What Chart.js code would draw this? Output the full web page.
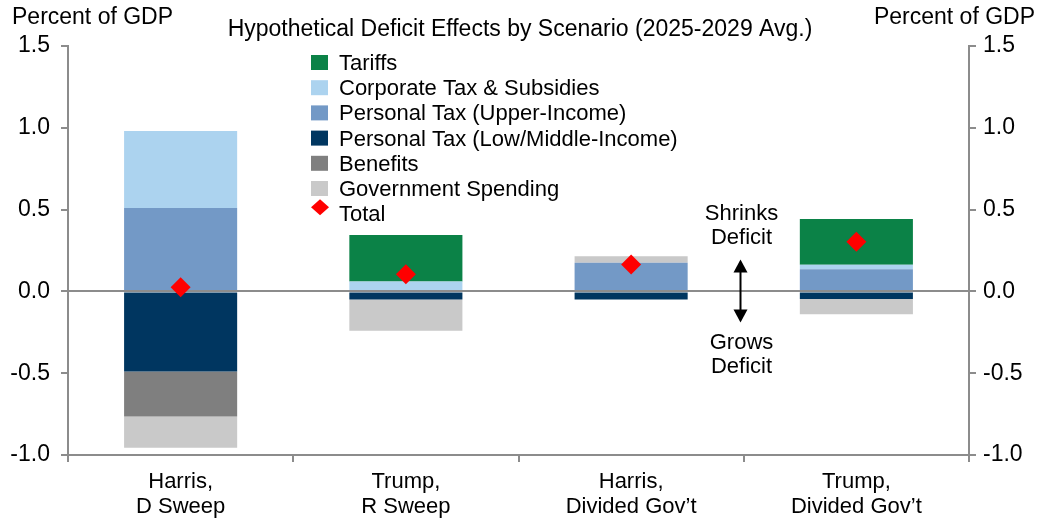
<!DOCTYPE html>
<html>
<head>
<meta charset="utf-8">
<script src="https://cdn.jsdelivr.net/npm/chart.js@4.4.1/dist/chart.umd.min.js"></script>
<style>
  html, body { margin: 0; padding: 0; background: #ffffff; }
  #wrap { width: 1039px; height: 525px; }
</style>
</head>
<body>
<div id="wrap"><canvas id="c" width="1039" height="525"></canvas></div>
<script>
// ---- Data ----
const categories = [
  ['Harris,', 'D Sweep'],
  ['Trump,', 'R Sweep'],
  ['Harris,', 'Divided Gov\u2019t'],
  ['Trump,', 'Divided Gov\u2019t']
];
const tariffs      = [0.00, 0.285, 0.00, 0.280];
const corporateTax = [0.47, 0.060, 0.00, 0.027];
const upperIncome  = [0.51, 0.000, 0.175, 0.136];
const lowMiddle    = [-0.49, -0.050, -0.050, -0.047];
const benefits     = [-0.275, 0.000, 0.000, 0.000];
const govSpending  = [-0.19, -0.190, 0.040, -0.093];
const total        = [0.025, 0.105, 0.165, 0.303];
const yTicks       = [-1.0, -0.5, 0.0, 0.5, 1.0, 1.5];

const seriesNames = ['Tariffs', 'Corporate Tax & Subsidies', 'Personal Tax (Upper-Income)',
  'Personal Tax (Low/Middle-Income)', 'Benefits', 'Government Spending', 'Total'];
const colors = ['#0b8247', '#acd3ef', '#7399c6', '#003660', '#7f7f7f', '#c9c9c9', '#ff0000'];

const FONT = "'Liberation Sans', Arial, sans-serif";
const AXIS_COLOR = '#8c8c8c';

function barDs(i, data, order) {
  return {
    type: 'bar', label: seriesNames[i], data: data, backgroundColor: colors[i],
    borderWidth: 0, stack: 'main', order: order, yAxisID: 'y'
  };
}

const overlay = {
  id: 'overlay',
  beforeDatasetDraw(chart, args) {
    if (args.index !== 6) return;
    const ctx = chart.ctx, ca = chart.chartArea, y = chart.scales.y;
    const py = Math.round(y.getPixelForValue(0)) ;
    ctx.save();
    ctx.strokeStyle = AXIS_COLOR; ctx.lineWidth = 2;
    ctx.beginPath(); ctx.moveTo(ca.left, py); ctx.lineTo(ca.right, py); ctx.stroke();
    ctx.restore();
  },
  afterDraw(chart) {
    const ctx = chart.ctx, x = chart.scales.x, y = chart.scales.y;
    ctx.save();
    ctx.fillStyle = '#000';
    ctx.textBaseline = 'middle';
    // axis titles
    ctx.font = '23px ' + FONT;
    ctx.textAlign = 'left';
    ctx.fillText('Percent of GDP', 12, 18);
    ctx.textAlign = 'right';
    ctx.fillText('Percent of GDP', 1035, 18);
    // title
    ctx.textAlign = 'center';
    ctx.fillText('Hypothetical Deficit Effects by Scenario (2025-2029 Avg.)', 520, 30);

    // annotation
    const ax = Math.round(x.getPixelForValue(2.5)) - 4 + 0.5;
    ctx.font = '22px ' + FONT;
    ctx.fillText('Shrinks', ax + 1, 214);
    ctx.fillText('Deficit', ax + 1, 238);
    ctx.fillText('Grows', ax + 1, 343);
    ctx.fillText('Deficit', ax + 1, 367);
    const yTop = y.getPixelForValue(0.195), yBot = y.getPixelForValue(-0.19);
    ctx.strokeStyle = '#000'; ctx.lineWidth = 2;
    ctx.beginPath(); ctx.moveTo(ax, yTop + 8); ctx.lineTo(ax, yBot - 8); ctx.stroke();
    ctx.beginPath();
    ctx.moveTo(ax, yTop); ctx.lineTo(ax - 7, yTop + 13); ctx.lineTo(ax + 7, yTop + 13); ctx.closePath(); ctx.fill();
    ctx.beginPath();
    ctx.moveTo(ax, yBot); ctx.lineTo(ax - 7, yBot - 13); ctx.lineTo(ax + 7, yBot - 13); ctx.closePath(); ctx.fill();

    // legend
    ctx.textAlign = 'left';
    ctx.font = '22px ' + FONT;
    chart.data.datasets.forEach((ds, i) => {
      const cy = 63 + i * 25.2;
      ctx.fillStyle = ds.backgroundColor;
      if (i < 6) {
        ctx.fillRect(311, cy - 8, 17, 15);
      } else {
        ctx.beginPath();
        ctx.moveTo(320, cy - 15); ctx.lineTo(329, cy - 7); ctx.lineTo(320, cy + 1); ctx.lineTo(311, cy - 7);
        ctx.closePath(); ctx.fill();
      }
      ctx.fillStyle = '#000';
      ctx.fillText(ds.label, 339, cy + 1);
    });
    ctx.restore();
  }
};

new Chart(document.getElementById('c'), {
  data: {
    labels: categories,
    datasets: [
      barDs(0, tariffs, 4),
      barDs(1, corporateTax, 3),
      barDs(2, upperIncome, 1),
      barDs(3, lowMiddle, 2),
      barDs(4, benefits, 5),
      barDs(5, govSpending, 6),
      {
        type: 'line', label: seriesNames[6], data: total, showLine: false,
        pointStyle: 'rectRot', pointRadius: 10, pointHoverRadius: 10,
        backgroundColor: colors[6], borderColor: colors[6], pointBorderWidth: 0,
        stack: 'total', order: 0, yAxisID: 'y'
      }
    ]
  },
  options: {
    responsive: false,
    animation: false,
    events: [],
    layout: { padding: { top: 46, left: 0, right: 0, bottom: 0 } },
    datasets: { bar: { barPercentage: 0.502, categoryPercentage: 1.0 } },
    plugins: { legend: { display: false }, title: { display: false }, tooltip: { enabled: false } },
    scales: {
      x: {
        stacked: true,
        offset: true,
        border: { display: true, color: AXIS_COLOR, width: 2 },
        grid: { offset: true, drawOnChartArea: false, drawTicks: true, tickLength: 7, color: AXIS_COLOR, lineWidth: 2 },
        ticks: { color: '#000', font: { family: FONT, size: 22, lineHeight: 1.15 }, padding: 7, maxRotation: 0, autoSkip: false },
        afterFit(s) { s.height = 70; }
      },
      y: {
        position: 'left',
        stacked: true,
        min: -1.0, max: 1.5,
        afterBuildTicks(s) { s.ticks = yTicks.map(v => ({ value: v })); },
        border: { display: true, color: AXIS_COLOR, width: 2 },
        grid: { drawOnChartArea: false, drawTicks: true, tickLength: 7, color: AXIS_COLOR, lineWidth: 2 },
        ticks: { color: '#000', font: { family: FONT, size: 23 }, padding: 11, callback: v => v.toFixed(1) },
        afterFit(s) { s.width = 68; }
      },
      y2: {
        position: 'right',
        min: -1.0, max: 1.5,
        afterBuildTicks(s) { s.ticks = yTicks.map(v => ({ value: v })); },
        border: { display: true, color: AXIS_COLOR, width: 2 },
        grid: { drawOnChartArea: false, drawTicks: true, tickLength: 7, color: AXIS_COLOR, lineWidth: 2 },
        ticks: { color: '#000', font: { family: FONT, size: 23 }, padding: 7, callback: v => v.toFixed(1) },
        afterFit(s) { s.width = 70; }
      }
    }
  },
  plugins: [overlay]
});
</script>
</body>
</html>
